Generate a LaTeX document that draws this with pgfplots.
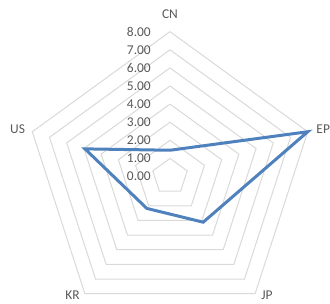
\documentclass[border=0pt]{standalone}
\usepackage{pgfplots}
\pgfplotsset{compat=1.18}
\usepackage{fontspec}
\setmainfont{Carlito}
\definecolor{gridc}{HTML}{D9D9D9}
\definecolor{txtc}{HTML}{595959}
\definecolor{linec}{HTML}{4F81BD}
\begin{document}
\begin{tikzpicture}
\clip (0,0) rectangle (330bp,304bp);
\begin{axis}[
  at={(0,0)}, anchor=south west,
  scale only axis, width=330bp, height=304bp,
  xmin=-9.392, xmax=8.840, ymin=-7.044, ymax=9.751,
  hide axis, clip=false,
]
% grid rings
\foreach \r in {1,...,8}{
  \edef\tmp{\noexpand\addplot[gridc, line width=1bp, data cs=polar] coordinates {(90,\r) (18,\r) (-54,\r) (-126,\r) (162,\r) (90,\r)};}
  \tmp
}
% data series
\addplot[linec, line width=3bp, line join=miter, data cs=polar] coordinates {
  (90,1.45) (18,8.00) (-54,3.12) (-126,2.18) (162,4.94) (90,1.45)
};
% radial tick labels
\foreach \r in {0,...,8}{
  \edef\tmp{\noexpand\node[anchor=east, text=txtc, font=\noexpand\fontsize{13.5}{15}\noexpand\selectfont, inner sep=0pt] at (axis cs:-1.05,\r) {\r.00};}
  \tmp
}
% category labels
\node[text=txtc, font=\fontsize{13.5}{15}\selectfont, inner sep=0pt] at (axis cs:0,8.97) {CN};
\node[text=txtc, font=\fontsize{13.5}{15}\selectfont, inner sep=0pt, anchor=west] at (axis cs:8.08,2.62) {EP};
\node[text=txtc, font=\fontsize{13.5}{15}\selectfont, inner sep=0pt] at (axis cs:5.36,-6.55) {JP};
\node[text=txtc, font=\fontsize{13.5}{15}\selectfont, inner sep=0pt] at (axis cs:-5.39,-6.55) {KR};
\node[text=txtc, font=\fontsize{13.5}{15}\selectfont, inner sep=0pt] at (axis cs:-8.42,2.62) {US};
\end{axis}
\end{tikzpicture}
\end{document}
